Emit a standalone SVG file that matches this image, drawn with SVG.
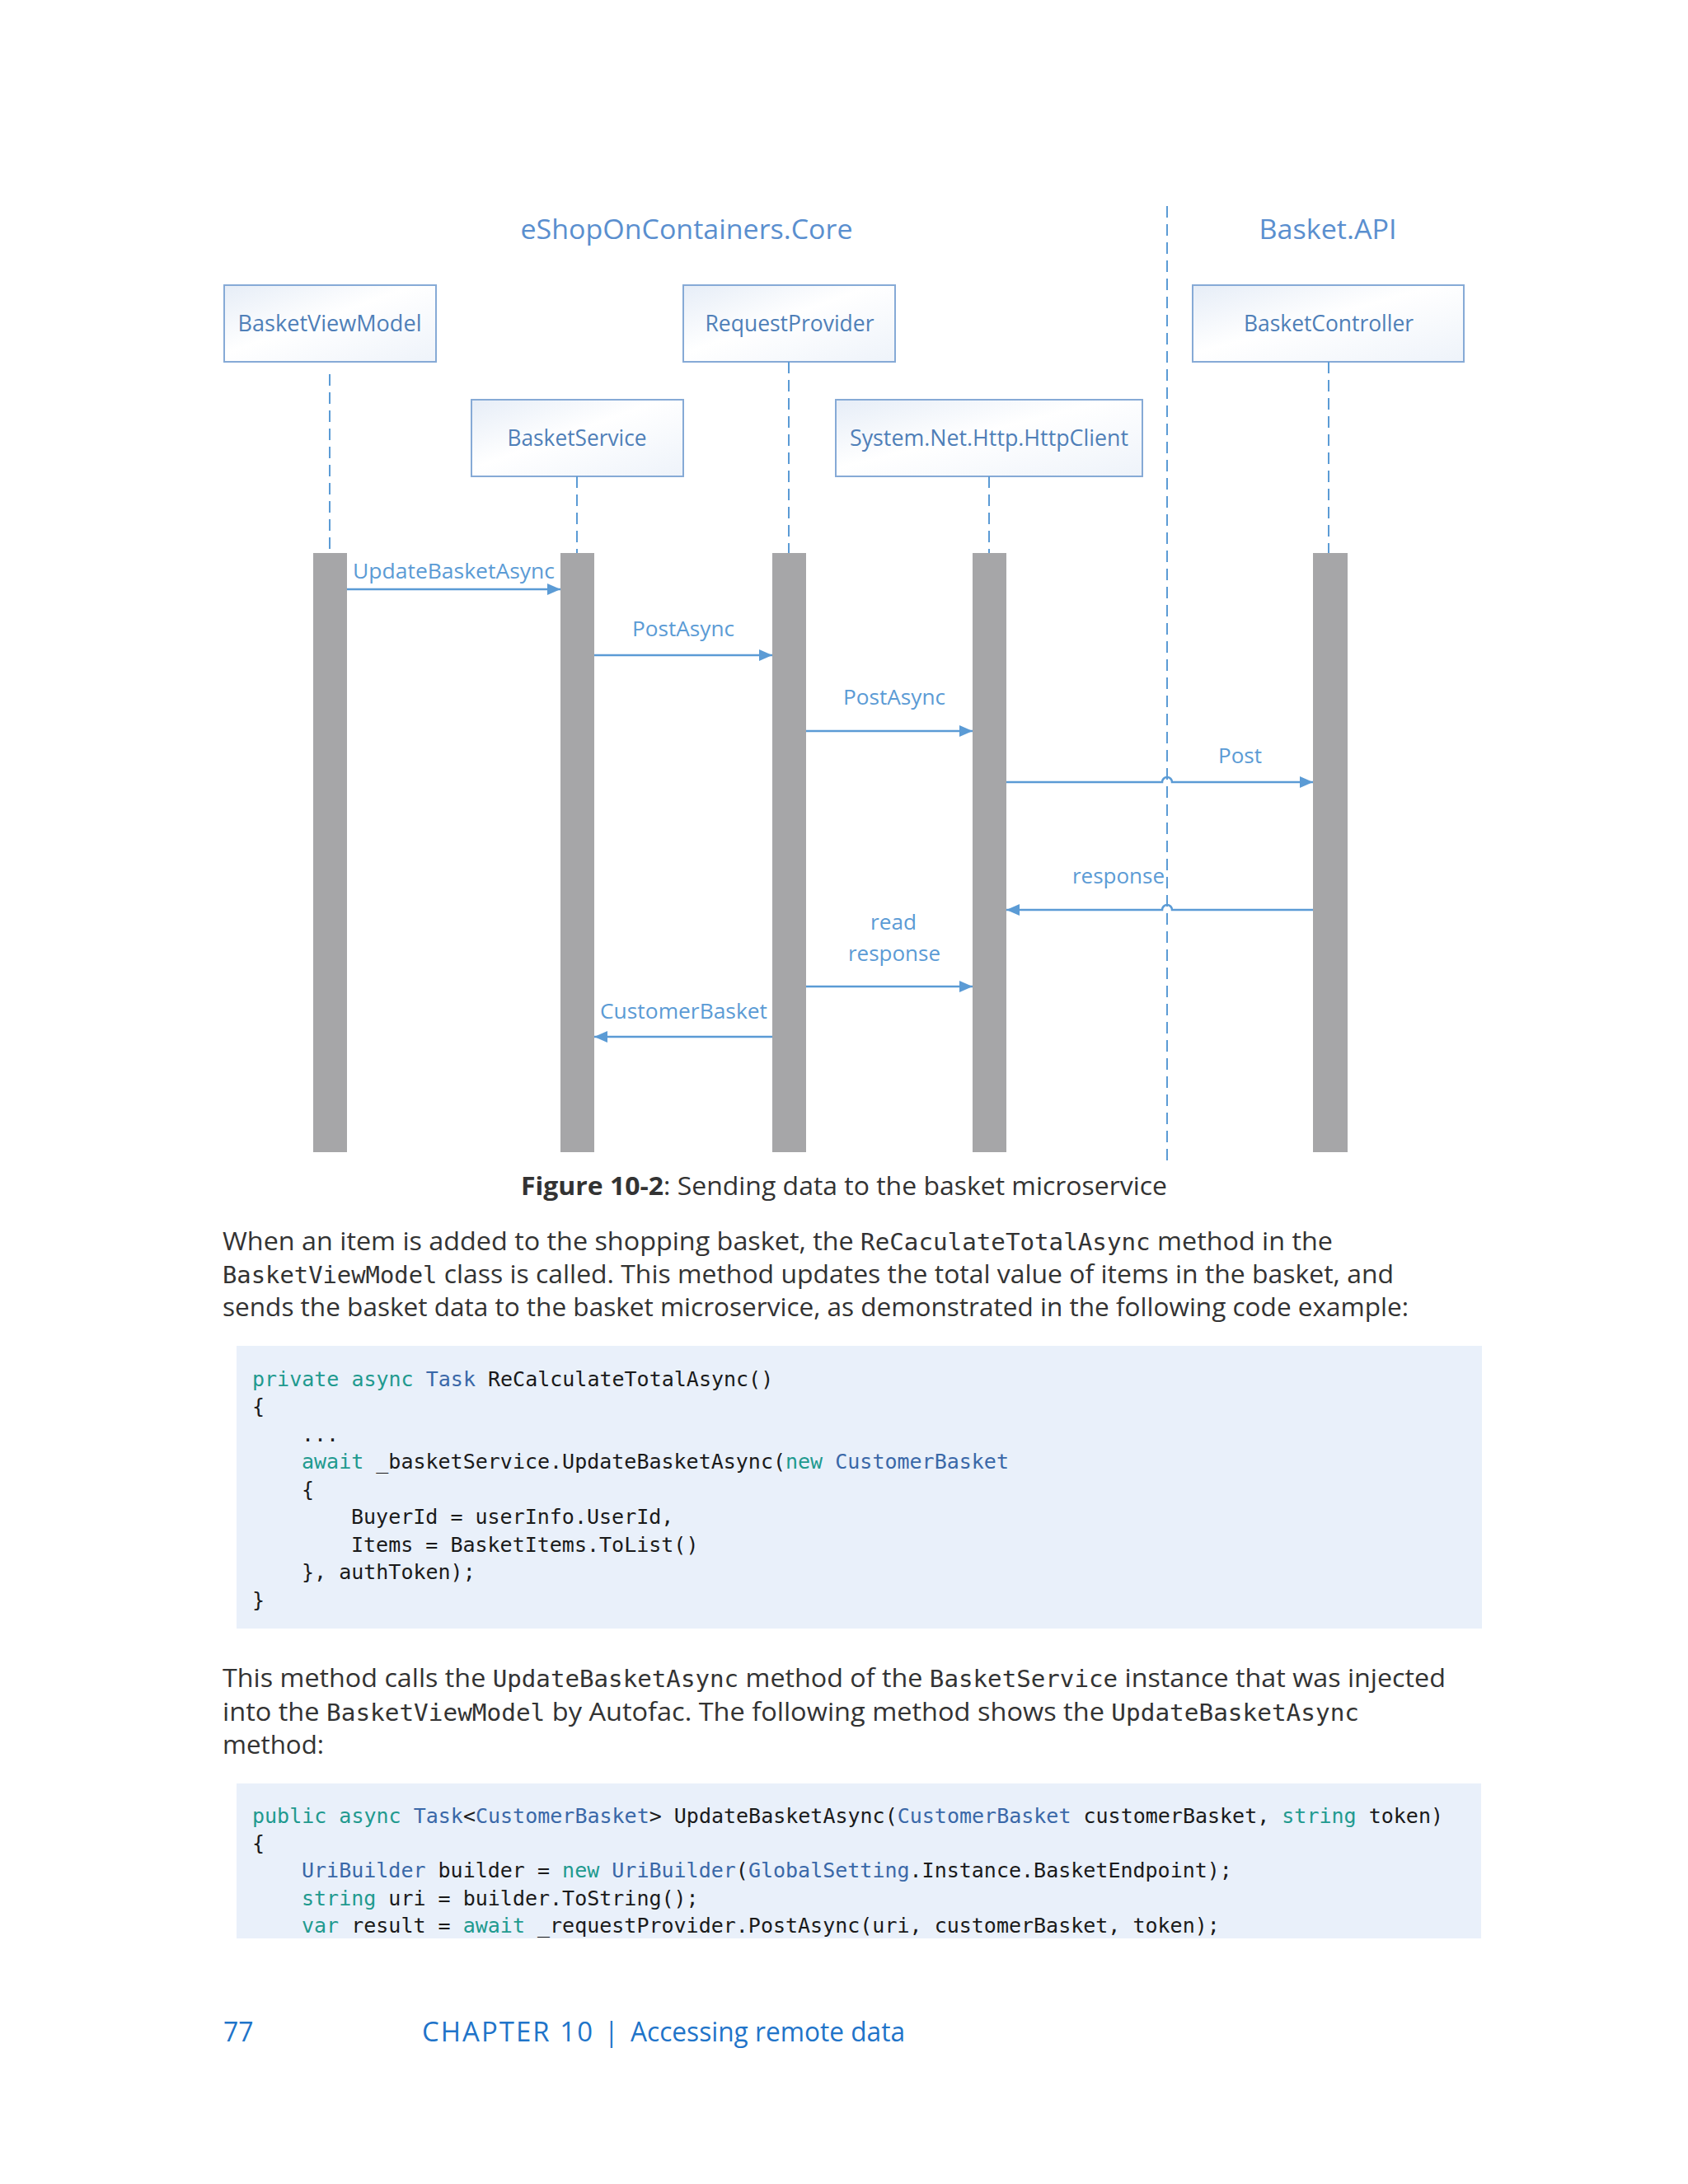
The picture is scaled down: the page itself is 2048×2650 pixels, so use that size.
<svg xmlns="http://www.w3.org/2000/svg" width="2048" height="2650" viewBox="0 0 2048 2650">
<style>
.title{font-family:"Open Sans","Noto Sans",sans-serif;font-size:33px;fill:#5a8fcf;text-anchor:middle}
.box{fill:url(#bg);stroke:#86aad6;stroke-width:2}
.blabel{font-family:"Open Sans","Noto Sans",sans-serif;font-size:27px;fill:#4f7fb8;text-anchor:middle}
.alabel{font-family:"Open Sans","Noto Sans",sans-serif;font-size:26px;fill:#5b9bd5}
.life{stroke:#5b9bd5;stroke-width:2;stroke-dasharray:14 8;fill:none}
.bar{fill:#a6a6a8}
.msg{stroke:#5b9bd5;stroke-width:2.5;fill:none;marker-end:url(#ah)}
.body{font-family:"Open Sans","Noto Sans",sans-serif;font-size:31px;fill:#333333}
.mono{font-family:"DejaVu Sans Mono","Liberation Mono",monospace;font-size:28px}
.code{font-family:"DejaVu Sans Mono","Liberation Mono",monospace;font-size:25px;fill:#1a1a1a}
.kw{fill:#1f9a8f}
.ty{fill:#3a68a8}
.codebg{fill:#e9f0fa}
.foot{font-family:"Open Sans","Noto Sans",sans-serif;font-size:32px;fill:#1f74c9}
</style>
<defs>
<linearGradient id="bg" x1="0" y1="0" x2="1" y2="1">
<stop offset="0" stop-color="#e6edf7"/>
<stop offset="0.45" stop-color="#ffffff"/>
<stop offset="1" stop-color="#eef3fa"/>
</linearGradient>
<marker id="ah" markerUnits="userSpaceOnUse" markerWidth="18" markerHeight="16" refX="16" refY="7" orient="auto">
<path d="M0,0 L16,7 L0,14 z" fill="#5b9bd5"/>
</marker>
</defs>
<rect x="0" y="0" width="2048" height="2650" fill="#ffffff"/>

<text class="title" x="833" y="290" textLength="403" lengthAdjust="spacingAndGlyphs">eShopOnContainers.Core</text>
<text class="title" x="1611" y="290" textLength="167" lengthAdjust="spacingAndGlyphs">Basket.API</text>
<line class="life" x1="1416" y1="250" x2="1416" y2="1412"/>

<g id="BasketViewModel">
<rect class="box" x="272" y="346" width="257" height="93"/>
<text class="blabel" x="400" y="402" textLength="223" lengthAdjust="spacingAndGlyphs">BasketViewModel</text>
<line class="life" x1="400" y1="454" x2="400" y2="671"/>
<rect class="bar" x="380" y="671" width="41" height="727"/>
</g>
<g id="BasketService">
<rect class="box" x="572" y="485" width="257" height="93"/>
<text class="blabel" x="700" y="541" textLength="169" lengthAdjust="spacingAndGlyphs">BasketService</text>
<line class="life" x1="700" y1="578" x2="700" y2="671"/>
<rect class="bar" x="680" y="671" width="41" height="727"/>
</g>
<g id="RequestProvider">
<rect class="box" x="829" y="346" width="257" height="93"/>
<text class="blabel" x="958" y="402" textLength="205" lengthAdjust="spacingAndGlyphs">RequestProvider</text>
<line class="life" x1="957" y1="439" x2="957" y2="671"/>
<rect class="bar" x="937" y="671" width="41" height="727"/>
</g>
<g id="HttpClient">
<rect class="box" x="1014" y="485" width="372" height="93"/>
<text class="blabel" x="1200" y="541" textLength="338" lengthAdjust="spacingAndGlyphs">System.Net.Http.HttpClient</text>
<line class="life" x1="1200" y1="578" x2="1200" y2="671"/>
<rect class="bar" x="1180" y="671" width="41" height="727"/>
</g>
<g id="BasketController">
<rect class="box" x="1447" y="346" width="329" height="93"/>
<text class="blabel" x="1612" y="402" textLength="206" lengthAdjust="spacingAndGlyphs">BasketController</text>
<line class="life" x1="1612" y1="439" x2="1612" y2="671"/>
<rect class="bar" x="1593" y="671" width="42" height="727"/>
</g>

<g id="connectors">
<path class="msg" d="M421,715 H680"/>
<text class="alabel" x="428" y="702" textLength="245" lengthAdjust="spacingAndGlyphs">UpdateBasketAsync</text>
<path class="msg" d="M721,795 H937"/>
<text class="alabel" x="767" y="772" textLength="124" lengthAdjust="spacingAndGlyphs">PostAsync</text>
<path class="msg" d="M978,887 H1180"/>
<text class="alabel" x="1023" y="855" textLength="124" lengthAdjust="spacingAndGlyphs">PostAsync</text>
<path class="msg" d="M1221,949 H1410 A6,6 0 0 1 1422,949 H1593"/>
<text class="alabel" x="1478" y="926" textLength="53" lengthAdjust="spacingAndGlyphs">Post</text>
<path class="msg" d="M1593,1104 H1422 A6,6 0 0 0 1410,1104 H1221"/>
<text class="alabel" x="1301" y="1072" textLength="112" lengthAdjust="spacingAndGlyphs">response</text>
<path class="msg" d="M978,1197 H1180"/>
<text class="alabel" x="1056" y="1128" textLength="56" lengthAdjust="spacingAndGlyphs">read</text>
<text class="alabel" x="1029" y="1166" textLength="112" lengthAdjust="spacingAndGlyphs">response</text>
<path class="msg" d="M937,1258 H721"/>
<text class="alabel" x="728" y="1236" textLength="203" lengthAdjust="spacingAndGlyphs">CustomerBasket</text>
</g>

<text class="body" x="632" y="1450" textLength="784" lengthAdjust="spacingAndGlyphs"><tspan font-weight="bold">Figure 10-2</tspan>: Sending data to the basket microservice</text>

<text class="body" x="270" y="1517" textLength="1347" lengthAdjust="spacingAndGlyphs">When an item is added to the shopping basket, the <tspan class="mono">ReCaculateTotalAsync</tspan> method in the</text>
<text class="body" x="270" y="1557" textLength="1421" lengthAdjust="spacingAndGlyphs"><tspan class="mono">BasketViewModel</tspan> class is called. This method updates the total value of items in the basket, and</text>
<text class="body" x="270" y="1597" textLength="1439" lengthAdjust="spacingAndGlyphs">sends the basket data to the basket microservice, as demonstrated in the following code example:</text>

<rect class="codebg" x="287" y="1633" width="1511" height="343"/>
<text class="code" xml:space="preserve" x="306" y="1682"><tspan class="kw">private async</tspan> <tspan class="ty">Task</tspan> ReCalculateTotalAsync()</text>
<text class="code" x="306" y="1715">{</text>
<text class="code" x="366" y="1749">...</text>
<text class="code" xml:space="preserve" x="366" y="1782"><tspan class="kw">await</tspan> _basketService.UpdateBasketAsync(<tspan class="kw">new</tspan> <tspan class="ty">CustomerBasket</tspan></text>
<text class="code" x="366" y="1816">{</text>
<text class="code" x="426" y="1849">BuyerId = userInfo.UserId,</text>
<text class="code" x="426" y="1883">Items = BasketItems.ToList()</text>
<text class="code" x="366" y="1916">}, authToken);</text>
<text class="code" x="306" y="1950">}</text>

<text class="body" x="270" y="2047" textLength="1484" lengthAdjust="spacingAndGlyphs">This method calls the <tspan class="mono">UpdateBasketAsync</tspan> method of the <tspan class="mono">BasketService</tspan> instance that was injected</text>
<text class="body" x="270" y="2088" textLength="1379" lengthAdjust="spacingAndGlyphs">into the <tspan class="mono">BasketViewModel</tspan> by Autofac. The following method shows the <tspan class="mono">UpdateBasketAsync</tspan></text>
<text class="body" x="270" y="2128" textLength="123" lengthAdjust="spacingAndGlyphs">method:</text>

<rect class="codebg" x="287" y="2164" width="1510" height="188"/>
<text class="code" xml:space="preserve" x="306" y="2212"><tspan class="kw">public async</tspan> <tspan class="ty">Task</tspan>&lt;<tspan class="ty">CustomerBasket</tspan>&gt; UpdateBasketAsync(<tspan class="ty">CustomerBasket</tspan> customerBasket, <tspan class="kw">string</tspan> token)</text>
<text class="code" x="306" y="2245">{</text>
<text class="code" xml:space="preserve" x="366" y="2278"><tspan class="ty">UriBuilder</tspan> builder = <tspan class="kw">new</tspan> <tspan class="ty">UriBuilder</tspan>(<tspan class="ty">GlobalSetting</tspan>.Instance.BasketEndpoint);</text>
<text class="code" xml:space="preserve" x="366" y="2312"><tspan class="kw">string</tspan> uri = builder.ToString();</text>
<text class="code" xml:space="preserve" x="366" y="2345"><tspan class="kw">var</tspan> result = <tspan class="kw">await</tspan> _requestProvider.PostAsync(uri, customerBasket, token);</text>

<text class="foot" x="271" y="2477">77</text>
<text class="foot" x="512" y="2477" textLength="209" lengthAdjust="spacingAndGlyphs" letter-spacing="2">CHAPTER 10</text>
<text class="foot" x="733" y="2477">|</text>
<text class="foot" x="765" y="2477" textLength="333" lengthAdjust="spacingAndGlyphs">Accessing remote data</text>
</svg>
